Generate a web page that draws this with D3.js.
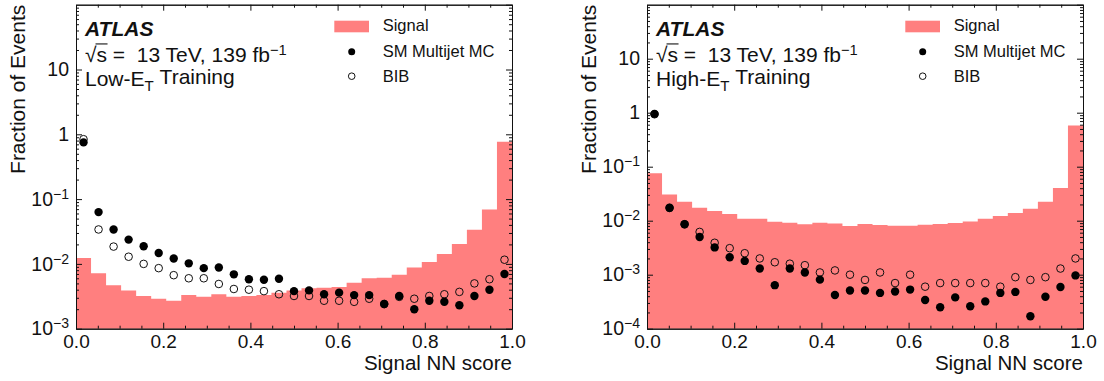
<!DOCTYPE html>
<html>
<head>
<meta charset="utf-8">
<script src="https://cdn.jsdelivr.net/npm/d3@7"></script>
<style>
  body { margin: 0; background: #fff; }
  svg text { font-family: "Liberation Sans", Arial, Helvetica, sans-serif; }
</style>
</head>
<body>
<svg id="chart" width="1104" height="381"></svg>
<script>
// ---- data: fraction of events per bin of the signal NN score (29 equal bins on [0,1]) ----
const nBins = 29;

const lowSignal = [0.0123, 0.0072, 0.0047, 0.0039, 0.0032, 0.0029, 0.0027, 0.0033, 0.0031, 0.0034,
                   0.0031, 0.0032, 0.0033, 0.0036, 0.0039, 0.0042, 0.0043, 0.0044, 0.0051, 0.0060,
                   0.0061, 0.0068, 0.0088, 0.0107, 0.0142, 0.0203, 0.0336, 0.069, 0.77];
const lowMultijet = [0.75, 0.063, 0.034, 0.0237, 0.0187, 0.0147, 0.0121, 0.0102, 0.0086, 0.0088,
                     0.0069, 0.0058, 0.0057, 0.0059, 0.0038, 0.0039, 0.0034, 0.0036, 0.0033, 0.0033,
                     0.0024, 0.0032, 0.0020, 0.0027, 0.0026, 0.0023, 0.0032, 0.0040, 0.0070];
const lowBIB = [0.84, 0.034, 0.0185, 0.0129, 0.0100, 0.0086, 0.0067, 0.0060, 0.0060, 0.0049,
                0.0041, 0.0040, 0.0038, 0.0034, 0.0032, 0.0032, 0.0027, 0.0027, 0.0026, 0.0029,
                0.0024, 0.0031, 0.0029, 0.0032, 0.0034, 0.0037, 0.0050, 0.0058, 0.0116];

const highSignal = [0.0754, 0.0307, 0.0225, 0.0174, 0.0151, 0.0133, 0.0109, 0.0109, 0.0096, 0.0092,
                    0.0086, 0.0092, 0.0089, 0.0080, 0.0087, 0.0083, 0.0081, 0.0081, 0.0084, 0.0087,
                    0.0091, 0.0097, 0.0109, 0.0122, 0.0139, 0.0167, 0.0225, 0.0403, 0.582];
const highMultijet = [0.95, 0.0174, 0.0086, 0.0050, 0.0032, 0.0021, 0.0018, 0.0013, 0.00064, 0.0013,
                      0.0011, 0.00081, 0.00042, 0.00051, 0.00051, 0.00046, 0.00049, 0.00053, 0.00034, 0.00025,
                      0.00038, 0.00026, 0.00032, 0.00046, 0.00048, 0.00017, 0.00039, 0.00059, 0.00097];
const highBIB = [0.935, 0.0172, 0.0086, 0.0062, 0.0039, 0.0031, 0.0025, 0.0020, 0.0017, 0.0016,
                 0.0015, 0.0011, 0.0012, 0.0010, 0.0008, 0.0011, 0.0007, 0.0010, 0.0006, 0.0007,
                 0.0007, 0.0007, 0.0007, 0.0006, 0.0009, 0.0008, 0.0009, 0.0013, 0.0020];

const xTickValues = [0, 0.2, 0.4, 0.6, 0.8, 1.0];
const lowYTicks = [1e-3, 1e-2, 1e-1, 1, 10];
const highYTicks = [1e-4, 1e-3, 1e-2, 1e-1, 1, 10];
const legendLabels = ["Signal", "SM Multijet MC", "BIB"];

// ---- layout ----
const plotW = 436, plotTop = 4.7, plotBottom = 328.7;
const plotH = plotBottom - plotTop;
const signalColor = "#ff7f7f";
const font = "'Liberation Sans', Arial, Helvetica, sans-serif";
const infoSize = 21;

const panels = [
  { left: 76,  yMin: 1e-3, yTicks: lowYTicks,  signal: lowSignal,  multijet: lowMultijet,  bib: lowBIB,  trainPrefix: "Low-E" },
  { left: 647, yMin: 1e-4, yTicks: highYTicks, signal: highSignal, multijet: highMultijet, bib: highBIB, trainPrefix: "High-E" }
];

const svg = d3.select("#chart");

function styleAxis(sel, size) {
  sel.attr("font-size", size).attr("font-family", font);
  sel.selectAll("path.domain").attr("stroke", "#111").attr("stroke-width", 1);
  sel.selectAll(".tick line").attr("stroke", "#111").attr("stroke-width", 1);
  sel.selectAll(".tick text").attr("fill", "#111");
}

// power-of-ten labels: 1 and 10 written plainly, smaller values as 10 with a superscript exponent
function powerLabels(sel) {
  sel.selectAll(".tick text").each(function (d) {
    const t = d3.select(this);
    const e = Math.round(Math.log10(d));
    t.text(null);
    if (e >= 0) {
      t.text(String(Math.round(d)));
    } else {
      t.append("tspan").text("10");
      t.append("tspan").attr("dy", "-0.5em").attr("font-size", "0.72em").text("\u2212" + (-e));
    }
  });
}

panels.forEach(p => {
  const g = svg.append("g").attr("transform", `translate(${p.left},${plotTop})`);
  const x = d3.scaleLinear().domain([0, 1]).range([0, plotW]);
  const y = d3.scaleLog().domain([p.yMin, 100]).range([plotH, 0]);

  const edges = d3.range(nBins + 1).map(i => i / nBins);
  const centers = d3.range(nBins).map(i => (i + 0.5) / nBins);

  // signal histogram as a filled step area
  const steps = p.signal.map((v, i) => [edges[i], v]).concat([[1, p.signal[nBins - 1]]]);
  const area = d3.area()
    .curve(d3.curveStepAfter)
    .x(d => x(d[0]))
    .y0(plotH)
    .y1(d => y(d[1]));
  g.append("path").datum(steps).attr("d", area).attr("fill", signalColor);

  // BIB (open markers) under the multijet (filled markers)
  g.append("g").selectAll("circle").data(p.bib).join("circle")
    .attr("cx", (d, i) => x(centers[i]))
    .attr("cy", d => y(d))
    .attr("r", 3.8)
    .attr("fill", "none")
    .attr("stroke", "#111")
    .attr("stroke-width", 1);
  g.append("g").selectAll("circle").data(p.multijet).join("circle")
    .attr("cx", (d, i) => x(centers[i]))
    .attr("cy", d => y(d))
    .attr("r", 4.2)
    .attr("fill", "#000");

  // axes with inward ticks on all four sides
  const minorX = d3.range(1, 20).map(k => k * 0.05).filter(v => Math.abs(v * 5 - Math.round(v * 5)) > 1e-6);
  const lo = Math.round(Math.log10(p.yMin));
  const minorY = [];
  for (let e = lo; e < 2; e++) for (let k = 2; k <= 9; k++) minorY.push(k * Math.pow(10, e));
  const majorY = p.yTicks.concat([100]);

  const bottomAxis = g.append("g").attr("transform", `translate(0,${plotH})`)
    .call(d3.axisBottom(x).tickValues(xTickValues).tickSizeInner(-6).tickSizeOuter(0).tickPadding(6).tickFormat(d3.format(".1f")));
  styleAxis(bottomAxis, 19);
  const bottomMinor = g.append("g").attr("transform", `translate(0,${plotH})`)
    .call(d3.axisBottom(x).tickValues(minorX).tickSizeInner(-3).tickSizeOuter(0).tickFormat(""));
  styleAxis(bottomMinor, 19);

  const topAxis = g.append("g")
    .call(d3.axisTop(x).tickValues(xTickValues).tickSizeInner(-6).tickSizeOuter(0).tickFormat(""));
  styleAxis(topAxis, 19);
  const topMinor = g.append("g")
    .call(d3.axisTop(x).tickValues(minorX).tickSizeInner(-3).tickSizeOuter(0).tickFormat(""));
  styleAxis(topMinor, 19);

  const leftAxis = g.append("g")
    .call(d3.axisLeft(y).tickValues(p.yTicks).tickSizeInner(-6).tickSizeOuter(0).tickPadding(7));
  styleAxis(leftAxis, 19.5);
  powerLabels(leftAxis);
  const leftMinor = g.append("g")
    .call(d3.axisLeft(y).tickValues(minorY).tickSizeInner(-3).tickSizeOuter(0).tickFormat(""));
  styleAxis(leftMinor, 19);

  const rightAxis = g.append("g").attr("transform", `translate(${plotW},0)`)
    .call(d3.axisRight(y).tickValues(majorY).tickSizeInner(-6).tickSizeOuter(0).tickFormat(""));
  styleAxis(rightAxis, 19);
  const rightMinor = g.append("g").attr("transform", `translate(${plotW},0)`)
    .call(d3.axisRight(y).tickValues(minorY).tickSizeInner(-3).tickSizeOuter(0).tickFormat(""));
  styleAxis(rightMinor, 19);

  // axis titles
  g.append("text")
    .attr("transform", `translate(-51,0) rotate(-90)`)
    .attr("text-anchor", "end")
    .attr("font-size", 21)
    .attr("fill", "#111")
    .text("Fraction of Events");
  g.append("text")
    .attr("x", plotW).attr("y", plotH + 41.3)
    .attr("text-anchor", "end")
    .attr("font-size", 20.5)
    .attr("fill", "#111")
    .text("Signal NN score");

  // experiment label
  g.append("text")
    .attr("x", 9).attr("y", 31.3)
    .attr("font-size", 21).attr("font-weight", "bold").attr("font-style", "italic")
    .attr("fill", "#111")
    .text("ATLAS");

  const energyY = 57.3;
  const energy = g.append("text").attr("x", 9).attr("y", energyY).attr("font-size", infoSize).attr("fill", "#111");
  energy.append("tspan").text("\u221As\u00A0=\u00A0\u00A013 TeV, 139 fb");
  energy.append("tspan").attr("dy", "-0.5em").attr("font-size", "0.7em").text("\u22121");
  // bar of the square root, running from the top of the radical over the "s"
  const en = energy.node();
  const rootEnd = en.getEndPositionOfChar(0).x;
  const sEnd = en.getEndPositionOfChar(1).x;
  g.append("line")
    .attr("x1", rootEnd - 1).attr("x2", sEnd + 0.5)
    .attr("y1", energyY - infoSize * 0.86).attr("y2", energyY - infoSize * 0.86)
    .attr("stroke", "#111").attr("stroke-width", 1.1);

  const train = g.append("text").attr("x", 9).attr("y", 81.3).attr("font-size", infoSize).attr("fill", "#111");
  train.append("tspan").text(p.trainPrefix);
  train.append("tspan").attr("dy", "0.3em").attr("font-size", "0.72em").text("T");
  train.append("tspan").attr("dy", "-0.3em").text("\u00A0Training");

  // legend
  const lg = g.append("g").attr("font-size", 16.5).attr("fill", "#111");
  lg.append("rect").attr("x", 258.3).attr("y", 16).attr("width", 34.7).attr("height", 11.6).attr("fill", signalColor);
  lg.append("circle").attr("cx", 275.7).attr("cy", 47).attr("r", 3.5).attr("fill", "#000");
  lg.append("circle").attr("cx", 275.7).attr("cy", 71.5).attr("r", 3.3).attr("fill", "none").attr("stroke", "#111").attr("stroke-width", 1);
  lg.selectAll("text").data(legendLabels).join("text")
    .attr("x", 306.7)
    .attr("y", (d, i) => 26.5 + i * 25.5)
    .text(d => d);
});
</script>
</body>
</html>
